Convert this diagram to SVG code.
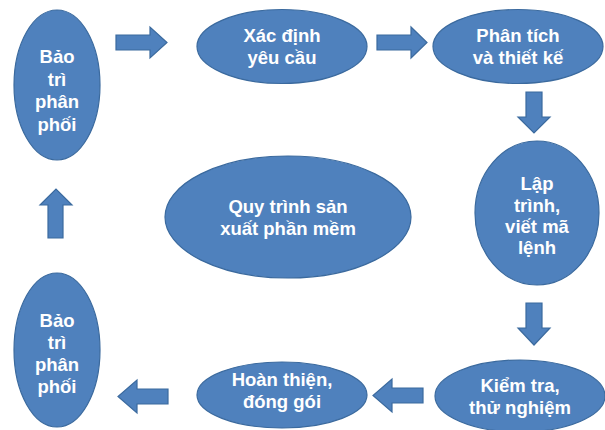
<svg xmlns="http://www.w3.org/2000/svg" width="605" height="430" viewBox="0 0 605 430">
<style>
.n{fill:#4F81BD;stroke:#3B6A9E;stroke-width:1.2}
.a{fill:#4F81BD;stroke:#3B6A9E;stroke-width:1.2}
text{font-family:"Liberation Sans",Arial,sans-serif;font-weight:bold;font-size:18.5px;fill:#FFFFFF;text-anchor:middle}
</style>
<rect width="605" height="430" fill="#FFFFFF"/>
<g id="connectors">
<polygon class="a" points="116,35 150,35 150,27 167,42.5 150,58 150,50 116,50"/>
<polygon class="a" points="377,35 411,35 411,27 427,42.5 411,58 411,50 377,50"/>
<polygon class="a" points="526,92 542,92 542,117 550,117 534,133 518,117 526,117"/>
<polygon class="a" points="526,303 542,303 542,328 550,328 534,345 518,328 526,328"/>
<polygon class="a" points="423,388 392,388 392,379 373,395.5 392,412 392,403 423,403"/>
<polygon class="a" points="168,389 137,389 137,380 118,396.5 137,413 137,404 168,404"/>
<polygon class="a" points="48,238 48,205 40,205 56,189 72,205 63,205 63,238"/>
</g>
<g id="n1">
<ellipse class="n" cx="57" cy="85" rx="43" ry="75"/>
<text x="57" y="63">Bảo</text>
<text x="57" y="86">trì</text>
<text x="57" y="108">phân</text>
<text x="57" y="131">phối</text>
</g>
<g id="n2">
<ellipse class="n" cx="282" cy="46.5" rx="85" ry="37"/>
<text x="282" y="42">Xác định</text>
<text x="282" y="64">yêu cầu</text>
</g>
<g id="n3">
<ellipse class="n" cx="518" cy="46.5" rx="85" ry="37"/>
<text x="518" y="42">Phân tích</text>
<text x="518" y="64">và thiết kế</text>
</g>
<g id="n4">
<ellipse class="n" cx="537" cy="213" rx="62" ry="72"/>
<text x="537" y="190">Lập</text>
<text x="537" y="212">trình,</text>
<text x="537" y="233">viết mã</text>
<text x="537" y="254">lệnh</text>
</g>
<g id="n5">
<ellipse class="n" cx="288" cy="217" rx="123" ry="61"/>
<text x="288" y="213">Quy trình sản</text>
<text x="288" y="235">xuất phần mềm</text>
</g>
<g id="n6">
<ellipse class="n" cx="520" cy="396" rx="85" ry="36"/>
<text x="520" y="392">Kiểm tra,</text>
<text x="520" y="414">thử nghiệm</text>
</g>
<g id="n7">
<ellipse class="n" cx="282" cy="395" rx="85" ry="33"/>
<text x="282" y="386">Hoàn thiện,</text>
<text x="282" y="408">đóng gói</text>
</g>
<g id="n8">
<ellipse class="n" cx="57" cy="350" rx="43" ry="77"/>
<text x="57" y="327">Bảo</text>
<text x="57" y="349">trì</text>
<text x="57" y="371">phân</text>
<text x="57" y="393">phối</text>
</g>
</svg>
